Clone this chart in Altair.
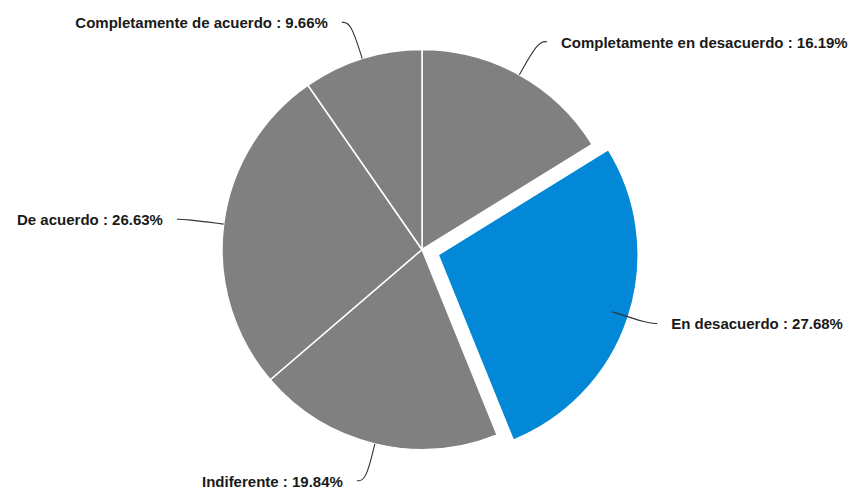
import math
import altair as alt
import pandas as pd

# ---- data ----
labels = ["Completamente en desacuerdo", "En desacuerdo", "Indiferente",
          "De acuerdo", "Completamente de acuerdo"]
values = [16.19, 27.68, 19.84, 26.63, 9.66]
highlight = "En desacuerdo"

# ---- layout / style ----
W, H = 840, 481
CX, CY = 414, 241.5          # pie centre inside the plot area
R = 200                       # pie radius
EXPLODE = 17                  # pull-out distance of the highlighted slice
LEAD = 38                     # radial length of leader line
HOOK = 9                      # horizontal hook at end of leader
GAP = 14                      # gap between leader end and label
TEXT_DY = 1
GRAY = "#808080"
BLUE = "#0288D6"

total = sum(values)
rows = []
cum = 0.0
for i, (lab, v) in enumerate(zip(labels, values)):
    mid = (cum + v / 2) / total * 2 * math.pi
    cum += v
    rows.append(dict(idx=i, label=lab, value=v, mid=mid,
                     hl=(lab == highlight),
                     text=f"{lab} : {v:.2f}%"))
df = pd.DataFrame(rows)

hl_mid = df.loc[df.hl, "mid"].iloc[0]
ex_dx = EXPLODE * math.sin(hl_mid)
ex_dy = -EXPLODE * math.cos(hl_mid)

# leader lines and label anchors derived from slice angles
lead_rows, text_rows = [], []
for r in rows:
    sx, sy = math.sin(r["mid"]), -math.cos(r["mid"])
    side = 1 if sx >= 0 else -1
    p0 = (CX + R * sx, CY + R * sy)
    p1 = (CX + (R + LEAD) * sx, CY + (R + LEAD) * sy)
    p2 = (p1[0] + side * HOOK, p1[1])
    for k, p in enumerate([p0, p1, p2]):
        lead_rows.append(dict(label=r["label"], step=k, x=p[0], y=p[1]))
    text_rows.append(dict(label=r["label"], text=r["text"],
                          x=p2[0] + side * GAP, y=p2[1] + TEXT_DY,
                          side="right" if side > 0 else "left"))
lead_df = pd.DataFrame(lead_rows)
text_df = pd.DataFrame(text_rows)

base = alt.Chart(df).encode(
    theta=alt.Theta("value:Q", stack=True),
    order=alt.Order("idx:Q"),
)

gray_arcs = base.mark_arc(radius=R, stroke="white", strokeWidth=1.5).encode(
    x=alt.value(CX), y=alt.value(CY),
    color=alt.value(GRAY),
    opacity=alt.condition("datum.hl", alt.value(0), alt.value(1)),
)

blue_arc = base.mark_arc(radius=R, stroke="white", strokeWidth=1.5).encode(
    x=alt.value(CX + ex_dx), y=alt.value(CY + ex_dy),
    color=alt.value(BLUE),
    opacity=alt.condition("datum.hl", alt.value(1), alt.value(0)),
)

leaders = alt.Chart(lead_df).mark_line(
    color="#333333", strokeWidth=1.1, interpolate="basis"
).encode(
    x=alt.X("x:Q", scale=None, axis=None),
    y=alt.Y("y:Q", scale=None, axis=None),
    detail="label:N",
    order="step:Q",
)

text_style = dict(font="Liberation Sans", fontSize=15, fontWeight="bold",
                  color="#1a1a1a", baseline="middle")

text_right = alt.Chart(text_df).transform_filter(
    "datum.side == 'right'"
).mark_text(align="left", **text_style).encode(
    x=alt.X("x:Q", scale=None, axis=None),
    y=alt.Y("y:Q", scale=None, axis=None),
    text="text:N",
)

text_left = alt.Chart(text_df).transform_filter(
    "datum.side == 'left'"
).mark_text(align="right", **text_style).encode(
    x=alt.X("x:Q", scale=None, axis=None),
    y=alt.Y("y:Q", scale=None, axis=None),
    text="text:N",
)

chart = alt.layer(gray_arcs, blue_arc, leaders, text_right, text_left).properties(
    width=W, height=H, autosize="none", padding=0,
).configure_view(stroke=None)

chart.save("out.html", embed_options={"renderer": "svg", "actions": False})
